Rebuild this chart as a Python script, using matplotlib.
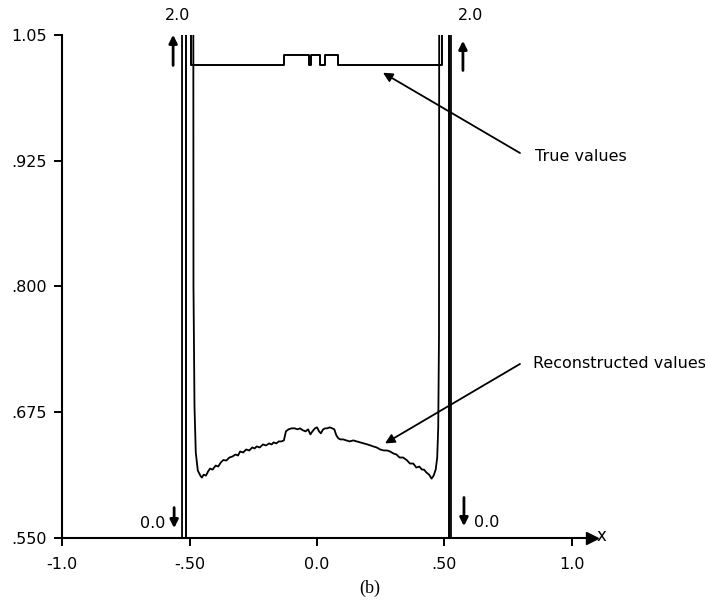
import matplotlib
matplotlib.use("Agg")
import matplotlib.pyplot as plt

plt.rcParams['font.family'] = ['DejaVu Sans']

# true profile along the line: step edges and the level after each edge
true_edges = [-1.0, -0.514, -0.493, -0.128, -0.033, -0.022, 0.012, 0.030, 0.082, 0.490, 0.520, 1.08]
true_levels = [0.0, 2.0, 1.02, 1.03, 1.02, 1.03, 1.02, 1.03, 1.02, 2.0, 0.0, 0.0]

# reconstructed profile
recon_x = [-1.0, -0.530, -0.530, -0.488, -0.485, -0.481, -0.476, -0.468, -0.458, -0.452,
           -0.445, -0.436, -0.428, -0.420, -0.410, -0.398, -0.388, -0.378, -0.368, -0.356,
           -0.344, -0.332, -0.320, -0.310, -0.302, -0.290, -0.278, -0.266, -0.254, -0.245,
           -0.237, -0.225, -0.212, -0.200, -0.188, -0.178, -0.170, -0.160, -0.150, -0.139,
           -0.130, -0.122, -0.112, -0.100, -0.088, -0.076, -0.067, -0.055, -0.045, -0.035,
           -0.026, -0.018, -0.008, 0.000, 0.008, 0.015, 0.024, 0.032, 0.040, 0.050,
           0.060, 0.068, 0.076, 0.084, 0.092, 0.103, 0.115, 0.128, 0.142, 0.156,
           0.170, 0.184, 0.198, 0.210, 0.221, 0.234, 0.248, 0.262, 0.275, 0.287,
           0.300, 0.312, 0.324, 0.338, 0.352, 0.365, 0.378, 0.390, 0.402, 0.412,
           0.420, 0.430, 0.440, 0.450, 0.458, 0.466, 0.472, 0.476, 0.479, 0.482,
           0.526, 0.526, 1.08]
recon_y = [0.0, 0.0, 2.0, 2.0, 0.80, 0.68, 0.635, 0.617, 0.612, 0.610,
           0.613, 0.612, 0.616, 0.619, 0.618, 0.622, 0.621, 0.625, 0.6275, 0.627,
           0.630, 0.631, 0.633, 0.632, 0.636, 0.635, 0.638, 0.637, 0.640, 0.639,
           0.641, 0.640, 0.643, 0.642, 0.644, 0.643, 0.645, 0.644, 0.646, 0.646,
           0.647, 0.656, 0.658, 0.659, 0.659, 0.658, 0.659, 0.657, 0.656, 0.658,
           0.653, 0.656, 0.659, 0.660, 0.656, 0.654, 0.658, 0.659, 0.659, 0.660,
           0.659, 0.658, 0.652, 0.649, 0.648, 0.648, 0.647, 0.646, 0.647, 0.646,
           0.645, 0.644, 0.643, 0.642, 0.641, 0.640, 0.638, 0.637, 0.637, 0.636,
           0.634, 0.633, 0.630, 0.630, 0.6275, 0.624, 0.624, 0.620, 0.621, 0.618,
           0.618, 0.615, 0.613, 0.609, 0.612, 0.618, 0.630, 0.660, 0.750, 2.0,
           2.0, 0.0, 0.0]

x_ticks = [-1.0, -0.5, 0.0, 0.5, 1.0]
x_labels = ["-1.0", "-.50", "0.0", ".50", "1.0"]
y_ticks = [0.550, 0.675, 0.800, 0.925, 1.05]
y_labels = [".550", ".675", ".800", ".925", "1.05"]

fig = plt.figure(figsize=(7.05, 6.11), dpi=100)
ax = fig.add_axes([0.0884, 0.1195, 0.7514, 0.8232])

ax.step(true_edges, true_levels, where="post", color="black", lw=1.4)
ax.plot(recon_x, recon_y, color="black", lw=1.3)

ax.set_xlim(-1.0, 1.08)
ax.set_ylim(0.55, 1.05)
ax.spines[["top", "right"]].set_visible(False)
ax.spines[["left", "bottom"]].set_linewidth(1.5)
ax.set_xticks(x_ticks, x_labels)
ax.set_yticks(y_ticks, y_labels)
ax.tick_params(axis="both", direction="out", length=6, width=1.4, labelsize=11.5)
ax.tick_params(axis="x", pad=8)
ax.tick_params(axis="y", pad=5)

# arrowhead at the end of the x axis
ax.plot([1.08], [0.55], marker=">", ms=9, color="black", clip_on=False)
ax.text(1.115, 0.552, "x", ha="center", va="center", fontsize=12)

# off-scale markers
big = dict(arrowstyle="-|>", color="black", lw=2.0, mutation_scale=12)
ax.annotate("", xy=(-0.565, 1.053), xytext=(-0.565, 1.017), arrowprops=big, annotation_clip=False)
ax.annotate("", xy=(0.573, 1.047), xytext=(0.573, 1.012), arrowprops=big, annotation_clip=False)
ax.text(-0.546, 1.069, "2.0", ha="center", va="center", fontsize=11.5)
ax.text(0.601, 1.069, "2.0", ha="center", va="center", fontsize=11.5)
ax.annotate("", xy=(-0.561, 0.557), xytext=(-0.561, 0.583), arrowprops=big, annotation_clip=False)
ax.annotate("", xy=(0.577, 0.559), xytext=(0.577, 0.593), arrowprops=big, annotation_clip=False)
ax.text(-0.597, 0.564, "0.0", ha="right", va="center", fontsize=11.5)
ax.text(0.616, 0.565, "0.0", ha="left", va="center", fontsize=11.5)

# labels with pointer lines
thin = dict(arrowstyle="-|>", color="black", lw=1.3, mutation_scale=14, shrinkA=0, shrinkB=0)
ax.annotate("", xy=(0.259, 1.0125), xytext=(0.797, 0.9327), arrowprops=thin)
ax.text(0.856, 0.9295, "True values", ha="left", va="center", fontsize=11.5)
ax.annotate("", xy=(0.267, 0.644), xytext=(0.797, 0.723), arrowprops=thin)
ax.text(0.848, 0.723, "Reconstructed values", ha="left", va="center", fontsize=11.5)

fig.text(370 / 705, 1 - 588 / 611, "(b)", ha="center", va="center",
         fontsize=13, family="Liberation Serif")

fig.savefig("out.png", dpi=100)
